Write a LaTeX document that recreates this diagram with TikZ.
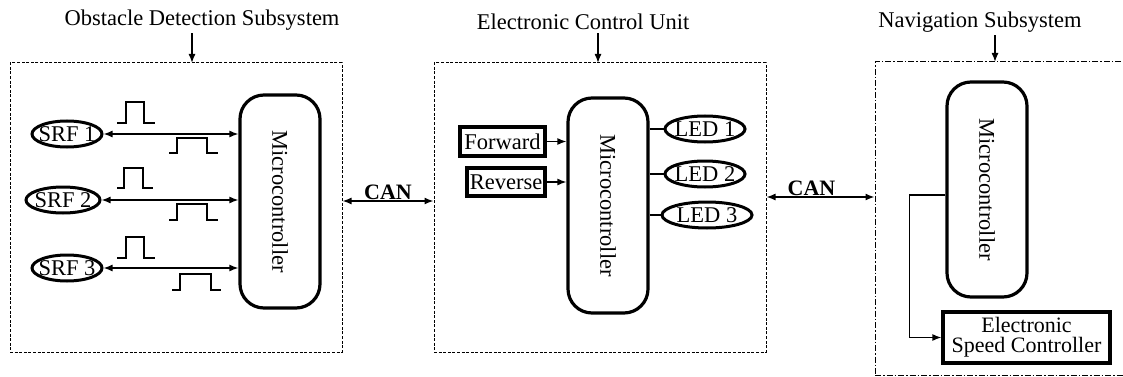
\documentclass[tikz,border=0pt]{standalone}
\usepackage{fontspec}
\setmainfont{Liberation Serif}
\usetikzlibrary{shapes.geometric,arrows.meta,calc}
\begin{document}
\begin{tikzpicture}[x=1pt,y=-1pt,
  font=\fontsize{22.5}{24}\selectfont,
  panel/.style={draw, line width=1pt, dash pattern=on 3pt off 1.6pt, inner sep=0pt},
  panelb/.style={draw, line width=1pt, dash pattern=on 6pt off 2pt on 1.5pt off 2pt, inner sep=0pt},
  mcu/.style={draw, line width=3.2pt, rounded corners=24pt, minimum width=80pt, inner sep=0pt},
  oval/.style={draw, ellipse, line width=3pt, inner xsep=-4pt, inner ysep=-1pt, minimum height=26pt},
  btn/.style={draw, line width=3.2pt, inner sep=0pt},
  title/.style={inner sep=0pt},
  arr/.style={line width=1.4pt, -{Latex[length=9pt,width=7pt]}},
  biarr/.style={line width=1.4pt, {Latex[length=9pt,width=7pt]}-{Latex[length=9pt,width=7pt]}},
  wire/.style={line width=1.4pt},
  pulse/.style={line width=1.3pt}
]
\clip (0,0) rectangle (1123,377);
\fill[white] (0,0) rectangle (1123,377);

% panels
\node[panel, minimum width=332pt, minimum height=289pt] (p1) at (176,207.5) {};
\node[panel, minimum width=332pt, minimum height=289pt] (p2) at (600,207.5) {};
\node[panelb, minimum width=300pt, minimum height=313pt] (p3) at (1025,218.5) {};

% titles
\node[title] (t1) at (202,20) {Obstacle Detection Subsystem};
\node[title] (t2) at (583,22) {Electronic Control Unit};
\node[title] (t3) at (980,22) {Navigation Subsystem};
\coordinate (a1) at (192,63);
\coordinate (a2) at (598,63);
\coordinate (a3) at (995,62);
\draw[arr] ([yshift=-3pt]a1 |- t1.south) -- (a1);
\draw[arr] ([yshift=-3pt]a2 |- t2.south) -- (a2);
\draw[arr] ([yshift=-3pt]a3 |- t3.south) -- (a3);

% obstacle detection subsystem
\node[mcu, minimum height=213pt] (m1) at (280,201.5) {\rotatebox{-90}{Microcontroller}};
\node[oval, minimum width=70pt] (s1) at (67,134) {SRF 1};
\node[oval, minimum width=74pt] (s2) at (63,200) {SRF 2};
\node[oval, minimum width=70pt] (s3) at (67,268) {SRF 3};
\draw[biarr] (s1.east) -- (s1.east -| m1.west);
\draw[biarr] (s2.east) -- (s2.east -| m1.west);
\draw[biarr] (s3.east) -- (s3.east -| m1.west);
\draw[pulse] (117,123) -- (126,123) -- (126,102) -- (144,102) -- (144,123) -- (155,123);
\draw[pulse] (169,153) -- (177,153) -- (177,138) -- (207,138) -- (207,153) -- (218,153);
\draw[pulse] (117,188) -- (124,188) -- (124,168) -- (143,168) -- (143,188) -- (153,188);
\draw[pulse] (169,220) -- (177,220) -- (177,204) -- (207,204) -- (207,220) -- (218,220);
\draw[pulse] (117,258) -- (126,258) -- (126,237) -- (144,237) -- (144,258) -- (155,258);
\draw[pulse] (172,290) -- (180,290) -- (180,274) -- (211,274) -- (211,290) -- (221,290);

% electronic control unit
\node[mcu, minimum height=215pt] (m2) at (608,205.5) {\rotatebox{-90}{Microcontroller}};
\node[btn, minimum width=85pt, minimum height=29pt] (fw) at (502.5,141.5) {Forward};
\node[btn, minimum width=78pt, minimum height=28pt] (rv) at (506,182) {Reverse};
\draw[arr] (fw.east) -- (fw.east -| m2.west);
\draw[arr] (rv.east) -- (rv.east -| m2.west);
\node[oval, minimum width=80pt] (l1) at (705,129) {LED 1};
\node[oval, minimum width=80pt] (l2) at (705,174) {LED 2};
\node[oval, minimum width=90pt] (l3) at (707,215) {LED 3};
\draw[wire] (m2.east |- l1.west) -- (l1.west);
\draw[wire] (m2.east |- l2.west) -- (l2.west);
\draw[wire] (m2.east |- l3.west) -- (l3.west);

% CAN links
\draw[biarr] ([yshift=6.5pt]p1.east) -- ([yshift=6.5pt]p1.east -| p2.west)
  node[midway, above=0pt, inner sep=1pt, font=\fontsize{22}{24}\selectfont\bfseries] {CAN};
\draw[biarr] ([yshift=10.5pt]p2.east) -- ([yshift=10.5pt]p2.east -| p3.west)
  node[midway, above=0pt, xshift=-9pt, inner sep=1pt, font=\fontsize{22}{24}\selectfont\bfseries] {CAN};

% navigation subsystem
\node[mcu, minimum height=215pt] (m3) at (987,189.5) {\rotatebox{-90}{Microcontroller}};
\node[btn, minimum width=167pt, minimum height=51pt, align=center,
  font=\fontsize{22}{20}\selectfont] (esc) at (1026.5,337.5) {Electronic\\Speed Controller};
\draw[arr] ([yshift=-5.5pt]m3.west) -- ++(-36,0) |- (esc.west);
\end{tikzpicture}
\end{document}
